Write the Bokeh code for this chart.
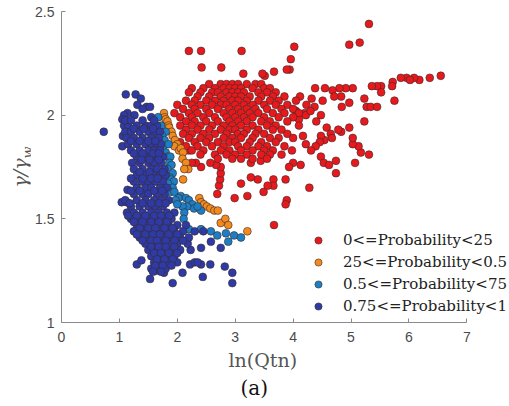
from bokeh.plotting import figure
from bokeh.models import ColumnDataSource, FixedTicker, Legend, LegendItem, Title, Div
from bokeh.layouts import row
from bokeh.embed import file_html
from bokeh.resources import INLINE

# ---------------- data ----------------
red_points = [
    (2.20, 2.31), (2.41, 2.31), (3.11, 2.31), (2.42, 2.23), (2.76, 2.23), (5.31, 2.44), (4.97, 2.34),
    (5.15, 2.35), (4.02, 2.33), (3.96, 2.27), (3.94, 2.22), (3.89, 2.22), (3.67, 2.21), (3.14, 2.20),
    (3.51, 2.19), (3.47, 2.20), (6.55, 2.19), (6.36, 2.18), (6.18, 2.17), (6.09, 2.18), (5.96, 2.18),
    (5.86, 2.18), (6.02, 2.17), (5.72, 2.16), (5.71, 2.14), (5.52, 2.14), (5.45, 2.14), (5.36, 2.14),
    (5.23, 2.08), (5.75, 2.07), (5.52, 2.11), (5.27, 2.04), (5.34, 2.04), (5.45, 2.04), (5.23, 1.97),
    (5.31, 1.81), (5.07, 1.77), (5.17, 1.82), (5.13, 1.85), (5.03, 1.86), (5.03, 1.89), (4.97, 1.94),
    (4.97, 2.06), (4.84, 2.04), (4.83, 2.09), (5.03, 2.13), (4.91, 2.13), (4.80, 2.13), (4.68, 2.12),
    (4.71, 2.09), (4.55, 2.13), (4.38, 2.13), (4.51, 2.07), (4.32, 2.08), (4.37, 2.04), (4.23, 2.05),
    (4.20, 2.01), (4.48, 2.00), (4.12, 2.09), (4.22, 2.00), (4.83, 1.92), (4.78, 1.93), (4.58, 1.94),
    (4.65, 1.91), (4.67, 1.89), (4.54, 1.88), (4.48, 1.90), (4.46, 1.87), (4.39, 1.85), (4.22, 1.86),
    (4.31, 1.83), (4.17, 1.90), (4.48, 1.80), (4.53, 1.77), (4.62, 1.76), (4.74, 1.78), (4.74, 1.72),
    (4.28, 1.65), (4.13, 1.76), (3.98, 1.83), (4.00, 1.77), (3.93, 1.75), (3.87, 1.69), (3.89, 1.59),
    (3.87, 1.57), (3.67, 1.47), (3.49, 1.63), (3.66, 1.69), (3.66, 1.66), (3.56, 1.66), (3.39, 1.69),
    (3.27, 1.70), (3.21, 1.61), (2.99, 1.60), (3.10, 1.67), (2.69, 1.62), (2.72, 1.66), (2.74, 1.69),
    (2.75, 1.72), (2.75, 1.75), (2.67, 1.76), (2.57, 1.77), (2.41, 1.75), (2.32, 1.77), (2.25, 1.77),
    (2.20, 1.83), (3.27, 1.77), (3.44, 1.78), (4.05, 2.02), (4.10, 1.98), (4.30, 2.02), (4.40, 1.97),
    # dense core
    (2.55, 2.15), (2.75, 2.15), (2.85, 2.15), (2.95, 2.15), (3.05, 2.15), (3.20, 2.15), (3.35, 2.15), (3.45, 2.15),
    (2.25, 2.13), (2.45, 2.13), (2.65, 2.13), (2.80, 2.13), (2.90, 2.13), (3.00, 2.13), (3.10, 2.13), (3.30, 2.13),
    (3.50, 2.13), (3.60, 2.13),
    (2.20, 2.11), (2.40, 2.11), (2.60, 2.11), (2.70, 2.11), (2.85, 2.11), (2.95, 2.11), (3.05, 2.11), (3.15, 2.11),
    (3.40, 2.11), (3.55, 2.11), (3.70, 2.11),
    (2.35, 2.09), (2.55, 2.09), (2.75, 2.09), (2.90, 2.09), (3.00, 2.09), (3.10, 2.09), (3.25, 2.09), (3.45, 2.09),
    (3.65, 2.09), (3.85, 2.09),
    (2.15, 2.07), (2.30, 2.07), (2.50, 2.07), (2.65, 2.07), (2.80, 2.07), (2.95, 2.07), (3.05, 2.07), (3.20, 2.07),
    (3.40, 2.07), (3.60, 2.07), (3.75, 2.07), (4.05, 2.07),
    (2.00, 2.05), (2.25, 2.05), (2.40, 2.05), (2.60, 2.05), (2.75, 2.05), (2.85, 2.05), (3.00, 2.05), (3.15, 2.05),
    (3.30, 2.05), (3.50, 2.05), (3.70, 2.05), (3.90, 2.05),
    (2.10, 2.03), (2.30, 2.03), (2.50, 2.03), (2.70, 2.03), (2.90, 2.03), (3.05, 2.03), (3.20, 2.03), (3.35, 2.03),
    (3.55, 2.03), (3.80, 2.03), (4.00, 2.03),
    (1.95, 2.01), (2.20, 2.01), (2.35, 2.01), (2.55, 2.01), (2.80, 2.01), (2.95, 2.01), (3.10, 2.01), (3.25, 2.01),
    (3.40, 2.01), (3.65, 2.01), (3.85, 2.01), (4.10, 2.01),
    (2.05, 1.99), (2.25, 1.99), (2.45, 1.99), (2.65, 1.99), (2.85, 1.99), (3.00, 1.99), (3.15, 1.99), (3.30, 1.99),
    (3.50, 1.99), (3.75, 1.99), (4.00, 1.99),
    (2.15, 1.97), (2.30, 1.97), (2.50, 1.97), (2.70, 1.97), (2.90, 1.97), (3.05, 1.97), (3.20, 1.97), (3.45, 1.97),
    (3.60, 1.97), (3.90, 1.97),
    (2.05, 1.95), (2.25, 1.95), (2.40, 1.95), (2.60, 1.95), (2.80, 1.95), (2.95, 1.95), (3.10, 1.95), (3.30, 1.95),
    (3.55, 1.95), (3.70, 1.95), (4.10, 1.95),
    (2.15, 1.93), (2.35, 1.93), (2.55, 1.93), (2.75, 1.93), (2.90, 1.93), (3.00, 1.93), (3.20, 1.93), (3.40, 1.93),
    (3.65, 1.93), (3.80, 1.93),
    (2.10, 1.91), (2.25, 1.91), (2.45, 1.91), (2.65, 1.91), (2.85, 1.91), (3.05, 1.91), (3.15, 1.91), (3.35, 1.91),
    (3.50, 1.91), (3.90, 1.91),
    (2.20, 1.89), (2.40, 1.89), (2.55, 1.89), (2.80, 1.89), (2.95, 1.89), (3.10, 1.89), (3.30, 1.89), (3.60, 1.89),
    (3.75, 1.89), (4.00, 1.89),
    (2.05, 1.87), (2.30, 1.87), (2.50, 1.87), (2.70, 1.87), (2.90, 1.87), (3.00, 1.87), (3.25, 1.87), (3.45, 1.87),
    (3.70, 1.87),
    (2.15, 1.85), (2.35, 1.85), (2.60, 1.85), (2.80, 1.85), (3.05, 1.85), (3.20, 1.85), (3.40, 1.85), (3.55, 1.85),
    (3.85, 1.85),
    (2.25, 1.83), (2.45, 1.83), (2.75, 1.83), (2.90, 1.83), (3.10, 1.83), (3.30, 1.83), (3.50, 1.83), (3.65, 1.83),
    (2.40, 1.81), (2.65, 1.81), (2.85, 1.81), (3.00, 1.81), (3.20, 1.81), (3.45, 1.81), (3.60, 1.81), (3.80, 1.81),
    (2.70, 1.79), (2.95, 1.79), (3.10, 1.79), (3.30, 1.79), (3.55, 1.79),
]

orange_points = [
    (1.77, 2.01), (1.78, 1.99), (1.80, 1.98), (1.83, 1.97), (1.85, 1.95), (1.86, 1.94), (1.90, 1.92),
    (1.92, 1.90), (1.96, 1.88), (2.00, 1.86), (1.95, 1.85), (2.03, 1.83), (2.06, 1.84), (2.10, 1.82),
    (2.09, 1.79), (2.15, 1.77), (2.19, 1.74), (2.12, 1.74), (2.10, 1.69), (2.38, 1.60), (2.41, 1.58),
    (2.46, 1.57), (2.51, 1.56), (2.57, 1.55), (2.64, 1.54), (2.70, 1.54), (2.75, 1.48), (2.83, 1.50),
    (2.88, 1.47), (3.21, 1.44),
]

lightblue_points = [
    (1.67, 1.99), (1.72, 1.95), (1.80, 1.92), (1.74, 1.90), (1.78, 1.88), (1.76, 1.85), (1.85, 1.86),
    (1.80, 1.82), (1.83, 1.80), (1.88, 1.80), (1.86, 1.77), (1.90, 1.76), (1.83, 1.74), (1.92, 1.72),
    (1.87, 1.70), (1.89, 1.69), (1.94, 1.68), (1.84, 1.67), (1.92, 1.65), (1.88, 1.63), (1.95, 1.63),
    (2.06, 1.61), (2.02, 1.60), (2.15, 1.60), (2.20, 1.59), (2.26, 1.57), (2.29, 1.55), (2.17, 1.56),
    (2.09, 1.56), (2.12, 1.53), (2.11, 1.50), (1.97, 1.59), (2.00, 1.57), (2.41, 1.54), (2.35, 1.56),
    (2.20, 1.45), (2.41, 1.45), (2.58, 1.44), (2.69, 1.42), (2.84, 1.43), (2.98, 1.42), (3.10, 1.41),
    (2.88, 1.39),
]

blue_points = [
    (0.73, 1.92), (1.11, 2.10), (1.28, 2.10), (1.37, 2.08), (1.31, 2.05), (1.47, 2.04), (1.53, 2.04),
    (1.40, 2.03), (1.14, 2.01), (1.08, 2.00), (1.26, 2.00), (1.55, 1.99), (1.05, 1.98), (1.11, 1.96),
    (1.53, 1.21), (1.63, 1.25), (1.77, 1.24), (1.92, 1.19), (2.09, 1.24), (2.22, 1.28), (2.41, 1.28),
    (2.44, 1.22), (2.57, 1.28), (2.82, 1.27), (2.95, 1.24), (2.95, 1.19), (2.41, 1.36), (2.75, 1.36),
    (2.58, 1.39), (2.23, 1.35), (2.18, 1.38), (1.30, 1.28), (1.38, 1.30), (1.14, 1.64), (1.04, 1.58),
    (1.13, 1.58), (1.13, 1.53), (1.06, 1.90), (1.05, 1.85),
    (1.08, 1.95), (1.15, 1.95), (1.30, 1.95), (1.45, 1.95), (1.55, 1.95), (1.65, 1.95),
    (1.10, 1.92), (1.20, 1.92), (1.35, 1.92), (1.50, 1.92), (1.60, 1.92), (1.70, 1.92),
    (1.12, 1.89), (1.25, 1.89), (1.40, 1.89), (1.55, 1.89), (1.68, 1.89),
    (1.15, 1.86), (1.30, 1.86), (1.45, 1.86), (1.55, 1.86), (1.65, 1.86), (1.72, 1.86),
    (1.20, 1.83), (1.35, 1.83), (1.50, 1.83), (1.60, 1.83), (1.70, 1.83),
    (1.30, 1.80), (1.45, 1.80), (1.55, 1.80), (1.65, 1.80), (1.75, 1.80),
    (1.22, 1.77), (1.35, 1.77), (1.50, 1.77), (1.60, 1.77), (1.72, 1.77),
    (1.25, 1.74), (1.40, 1.74), (1.55, 1.74), (1.65, 1.74), (1.78, 1.74),
    (1.30, 1.71), (1.45, 1.71), (1.60, 1.71), (1.70, 1.71), (1.80, 1.71),
    (1.25, 1.68), (1.38, 1.68), (1.50, 1.68), (1.62, 1.68), (1.75, 1.68),
    (1.30, 1.65), (1.45, 1.65), (1.55, 1.65), (1.70, 1.65), (1.82, 1.65),
    (1.25, 1.62), (1.40, 1.62), (1.50, 1.62), (1.65, 1.62), (1.78, 1.62),
    (1.10, 1.59), (1.30, 1.59), (1.45, 1.59), (1.60, 1.59), (1.72, 1.59), (1.85, 1.59),
    (1.20, 1.56), (1.35, 1.56), (1.50, 1.56), (1.62, 1.56), (1.75, 1.56),
    (1.25, 1.53), (1.40, 1.53), (1.55, 1.53), (1.68, 1.53), (1.82, 1.53), (1.95, 1.53),
    (1.20, 1.50), (1.35, 1.50), (1.50, 1.50), (1.62, 1.50), (1.75, 1.50), (1.90, 1.50),
    (1.30, 1.47), (1.45, 1.47), (1.58, 1.47), (1.70, 1.47), (1.85, 1.47), (2.00, 1.47), (2.15, 1.47),
    (1.25, 1.44), (1.40, 1.44), (1.55, 1.44), (1.68, 1.44), (1.80, 1.44), (1.95, 1.44), (2.10, 1.44),
    (2.30, 1.44), (2.45, 1.44),
    (1.35, 1.41), (1.50, 1.41), (1.62, 1.41), (1.75, 1.41), (1.90, 1.41), (2.05, 1.41), (2.20, 1.41),
    (1.45, 1.38), (1.58, 1.38), (1.70, 1.38), (1.85, 1.38), (2.00, 1.38),
    (1.50, 1.35), (1.62, 1.35), (1.75, 1.35), (1.88, 1.35), (2.05, 1.35),
    (1.55, 1.32), (1.68, 1.32), (1.80, 1.32), (1.95, 1.32),
    (1.60, 1.29), (1.72, 1.29), (1.85, 1.29), (2.00, 1.29), (2.30, 1.29), (2.35, 1.29),
    (1.55, 1.26), (1.68, 1.26), (1.80, 1.26),
    # in-between rows of the dense cluster
    (1.10, 1.975), (1.20, 1.975), (1.40, 1.975), (1.60, 1.975),
    (1.25, 1.935), (1.42, 1.935), (1.58, 1.935),
    (1.20, 1.875), (1.35, 1.875), (1.50, 1.875), (1.62, 1.875),
    (1.25, 1.815), (1.40, 1.815), (1.58, 1.815), (1.68, 1.815),
    (1.38, 1.785), (1.52, 1.785), (1.68, 1.785),
    (1.35, 1.725), (1.52, 1.725), (1.75, 1.725),
    (1.20, 1.695), (1.40, 1.695), (1.55, 1.695), (1.66, 1.695),
    (1.20, 1.635), (1.35, 1.635), (1.60, 1.635), (1.74, 1.635),
    (1.18, 1.575), (1.40, 1.575), (1.55, 1.575), (1.68, 1.575), (1.80, 1.575),
    (1.15, 1.515), (1.30, 1.515), (1.45, 1.515), (1.60, 1.515), (1.72, 1.515), (1.86, 1.515),
    (1.25, 1.485), (1.40, 1.485), (1.55, 1.485), (1.68, 1.485), (1.82, 1.485),
    (1.35, 1.455), (1.50, 1.455), (1.62, 1.455), (1.78, 1.455), (1.92, 1.455),
    (1.30, 1.425), (1.45, 1.425), (1.58, 1.425), (1.70, 1.425), (1.85, 1.425), (2.00, 1.425),
    (1.40, 1.395), (1.55, 1.395), (1.65, 1.395), (1.80, 1.395), (1.95, 1.395), (2.10, 1.395),
    (1.55, 1.365), (1.68, 1.365), (1.80, 1.365), (1.95, 1.365),
    (1.60, 1.335), (1.72, 1.335), (1.85, 1.335), (2.00, 1.335),
    (1.65, 1.305), (1.78, 1.305), (1.92, 1.305),
    (1.62, 1.275), (1.75, 1.275), (1.90, 1.275),
    (1.58, 1.245), (1.72, 1.245),
]

series_labels = ["0<=Probability<25", "25<=Probability<0.5",
                 "0.5<=Probability<75", "0.75<=Probability<1"]
series_colors = ["#E8191C", "#F28A1E", "#1C7FC6", "#2E3BA6"]

x_ticks = [0, 1, 2, 3, 4, 5, 6, 7]
y_ticks = [1, 1.5, 2, 2.5]
y_tick_labels = ["1", "1.5", "2", "2.5"]

# ---------------- figure ----------------
LEFT_W = 30
p = figure(width=509 - LEFT_W, height=406, output_backend="svg", toolbar_location=None,
           x_range=(0, 7.737), y_range=(1, 2.5),
           min_border_left=61 - LEFT_W, min_border_right=0, min_border_top=11, min_border_bottom=84)
p.outline_line_color = None
p.grid.visible = False
p.background_fill_color = "white"

for ax in (p.xaxis[0], p.yaxis[0]):
    ax.axis_line_color = "#8a8a8a"
    ax.axis_line_width = 1
    ax.major_tick_line_color = "#8a8a8a"
    ax.major_tick_in = 4
    ax.major_tick_out = 0
    ax.minor_tick_line_color = None
    ax.major_label_text_font = "Liberation Sans"
    ax.major_label_text_font_size = "14px"
    ax.major_label_text_color = "#4a4a4a"

p.xaxis.bounds = (0, 7)
p.xaxis.ticker = FixedTicker(ticks=x_ticks)
p.yaxis.ticker = FixedTicker(ticks=y_ticks)
p.yaxis.major_label_overrides = {t: s for t, s in zip(y_ticks, y_tick_labels)}
p.xaxis.major_label_standoff = 9
p.yaxis.major_label_standoff = 7

renderers = []
for pts, col in zip([red_points, orange_points, lightblue_points, blue_points], series_colors):
    src = ColumnDataSource(dict(x=[a for a, b in pts], y=[b for a, b in pts]))
    r = p.scatter("x", "y", source=src, size=7.8, fill_color=col, line_color="#3a2a2a",
                  line_width=0.6)
    renderers.append(r)

legend = Legend(items=[LegendItem(label=lab, renderers=[r]) for lab, r in zip(series_labels, renderers)],
                location=(248, 5), padding=0, margin=0, spacing=0,
                glyph_width=18, glyph_height=22, label_height=22, label_standoff=16,
                label_text_font="DejaVu Serif", label_text_font_size="15px",
                label_text_color="#222222",
                border_line_color=None, background_fill_alpha=0)
p.add_layout(legend)

# x-axis label and panel tag, placed below the axis
p.add_layout(Title(text="ln(Qtn)", align="left", offset=167, standoff=4,
                   text_font="DejaVu Serif", text_font_style="normal",
                   text_font_size="19px", text_color="#555555"), "below")
p.add_layout(Title(text="(a)", align="left", offset=179, standoff=2,
                   text_font="DejaVu Serif", text_font_style="normal",
                   text_font_size="20px", text_color="#111111"), "below")

# y-axis label with a real subscript
ylab = Div(
    text=('<div style="position:absolute; left:21px; top:167px; '
          'transform:translate(-50%,-50%) rotate(-90deg); white-space:nowrap; '
          'font-family:\'DejaVu Serif\'; font-style:italic; font-size:19px; color:#555555;">'
          '&gamma;/&gamma;<span style="font-size:14px; position:relative; top:6px;">w</span></div>'),
    width=LEFT_W, height=406, margin=0,
    styles={"position": "relative", "overflow": "visible"},
)

layout = row(ylab, p, spacing=0)
open("out.html", "w").write(file_html(layout, INLINE))
